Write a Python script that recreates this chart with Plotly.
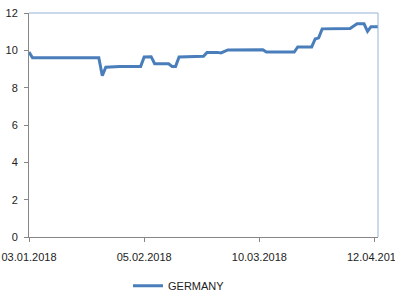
import plotly.graph_objects as go

dates = ["2018-01-03", "2018-01-04", "2018-01-23", "2018-01-24", "2018-01-25",
         "2018-01-29", "2018-02-04", "2018-02-05", "2018-02-07", "2018-02-08",
         "2018-02-12", "2018-02-13", "2018-02-14", "2018-02-15", "2018-02-22",
         "2018-02-23", "2018-02-26", "2018-02-27", "2018-03-01", "2018-03-11",
         "2018-03-12", "2018-03-20", "2018-03-21", "2018-03-25", "2018-03-26",
         "2018-03-27", "2018-03-28", "2018-04-05", "2018-04-07", "2018-04-09",
         "2018-04-10", "2018-04-11", "2018-04-13"]
germany = [9.91, 9.60, 9.60, 8.64, 9.10,
           9.14, 9.14, 9.64, 9.66, 9.28,
           9.28, 9.14, 9.14, 9.64, 9.68,
           9.89, 9.89, 9.86, 10.02, 10.03,
           9.91, 9.91, 10.18, 10.18, 10.61,
           10.67, 11.15, 11.17, 11.42, 11.42,
           11.02, 11.27, 11.27]

x_ticks = ["2018-01-03", "2018-02-05", "2018-03-10", "2018-04-12"]
x_tick_labels = ["03.01.2018", "05.02.2018", "10.03.2018", "12.04.2018"]
y_ticks = [0, 2, 4, 6, 8, 10, 12]

fig = go.Figure()
fig.add_trace(go.Scatter(x=dates, y=germany, mode="lines", name="GERMANY",
                         line=dict(color="#4a7ebb", width=3)))

font = dict(family="Liberation Sans, Arial, sans-serif", size=11, color="#222222")

fig.update_layout(
    width=395, height=297,
    margin=dict(l=29, r=17, t=13, b=60, autoexpand=False),
    paper_bgcolor="white", plot_bgcolor="white",
    font=font,
    showlegend=True,
    legend=dict(orientation="h", x=(128 - 29) / 349, xanchor="left",
                y=-0.218, yanchor="middle", font=font,
                bgcolor="rgba(0,0,0,0)"),
    xaxis=dict(type="date", range=["2018-01-03", "2018-04-13"],
               tickvals=x_ticks, ticktext=x_tick_labels,
               showgrid=False, zeroline=False,
               showline=True, linecolor="#868686", linewidth=1,
               ticks="outside", ticklen=4, tickcolor="#868686",
               ticklabelstandoff=6, ticklabeloverflow="allow",
               tickfont=font, automargin=False),
    yaxis=dict(range=[0, 12], tickvals=y_ticks,
               showgrid=False, zeroline=False,
               showline=True, linecolor="#868686", linewidth=1,
               ticks="outside", ticklen=4, tickcolor="#868686",
               ticklabelstandoff=4,
               tickfont=font, automargin=False),
    shapes=[
        dict(type="line", xref="paper", yref="paper", x0=0, x1=1, y0=1, y1=1,
             line=dict(color="#95b3d7", width=1)),
        dict(type="line", xref="paper", yref="paper", x0=1, x1=1, y0=0, y1=1,
             line=dict(color="#95b3d7", width=1)),
    ],
)

fig.write_html("out.html",
               config={"displayModeBar": False},
               post_script="document.body.style.margin='0';document.body.style.overflow='hidden';")
